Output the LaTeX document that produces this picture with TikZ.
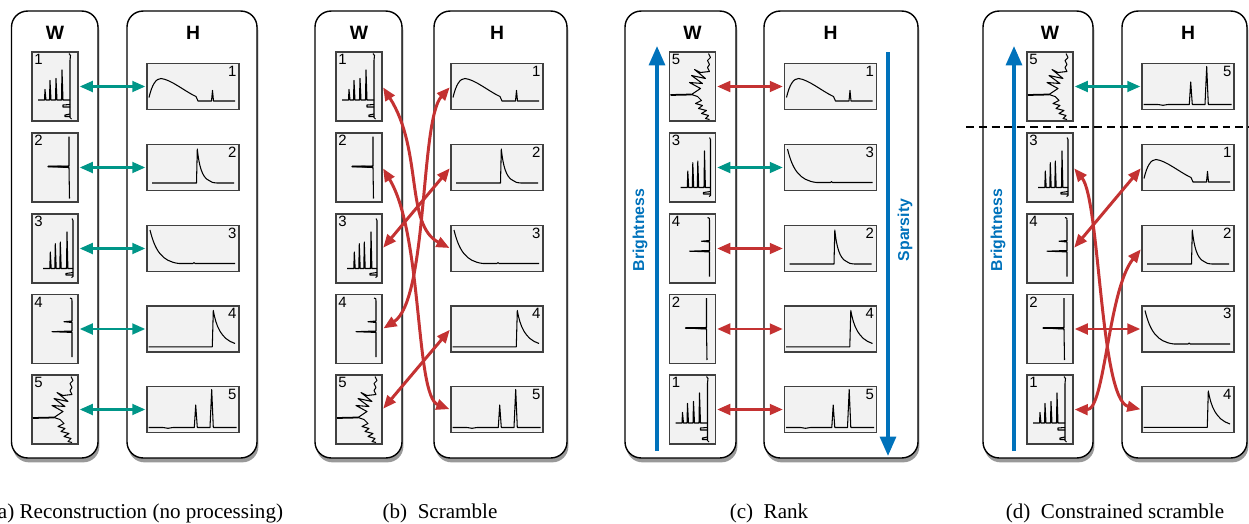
\documentclass[tikz,border=0pt]{standalone}
\usepackage{fontspec}
\setmainfont{Liberation Serif}
\setsansfont{Liberation Sans}
\usetikzlibrary{positioning, calc, arrows.meta, shadows}

\definecolor{tealc}{RGB}{0,150,136}
\definecolor{redc}{RGB}{196,50,50}
\definecolor{bluec}{RGB}{0,114,187}

\tikzset{
  panel/.style={draw=black, line width=0.8pt, fill=white, rounded corners=0.32cm, minimum height=8.94cm,
    drop shadow={shadow xshift=0.8pt, shadow yshift=-2.5pt, opacity=0.4, fill=black}},
  wbox/.style={draw=black!75, fill=black!5, line width=0.6pt, minimum width=0.92cm, minimum height=1.38cm, inner sep=0pt},
  hbox/.style={draw=black!75, fill=black!5, line width=0.6pt, minimum width=1.84cm, minimum height=0.92cm, inner sep=0pt},
  num/.style={font=\sffamily\fontsize{8.5}{9}\selectfont, inner sep=1.2pt},
  heading/.style={font=\sffamily\bfseries\fontsize{11}{12}\selectfont},
  axislabel/.style={font=\sffamily\bfseries\fontsize{9}{11}\selectfont, text=bluec, rotate=90},
  subcap/.style={font=\fontsize{12}{14}\selectfont, anchor=base},
  sig/.style={line width=0.6pt, line join=round, black},
  link/.style={<->, line width=1.7pt, >={Triangle[length=7.5pt, width=6pt]}, shorten <=0.6pt, shorten >=0.6pt},
  kept/.style={link, color=tealc},
  moved/.style={link, color=redc},
  ordr/.style={-{Triangle[length=11pt, width=9pt]}, line width=2pt, color=bluec},
  % W signals
  wsig1/.pic={
    \draw[sig] (14,33) -- (15.5,31) -- (15,26) -- (15,-31) -- (16.5,-32.5);
    \draw[sig] (-17,-13.5) -- (-10.5,-13.5) -- (-10,-3) -- (-9,-13.5) -- (-5.5,-13.5) -- (-5,6) -- (-4,-13.5)
      -- (0.5,-13.5) -- (1,8) -- (2,-13.5) -- (6.5,-13.5) -- (7,16.5) -- (8,-13.5) -- (15,-13.5);
    \draw[sig] (15,-18) -- (8,-18.5) -- (8,-20.5) -- (15,-20.5);
    \draw[sig] (15,-27.5) -- (10,-28.5) -- (10,-30) -- (15,-30);
  },
  wsig2/.pic={
    \draw[sig] (14,31) -- (14,1.5) -- (-7,1) -- (14,0);
    \draw[sig, line width=1pt] (-7,1) -- (14,0.8);
    \draw[sig] (14,0) -- (14.5,-31);
  },
  wsig3/.pic={
    \draw[sig] (17,30) -- (18,28) -- (18,-28) -- (16.5,-29);
    \draw[sig] (-12,-20) -- (-5.2,-20) -- (-4.7,-3.5) -- (-3.8,-20) -- (-0.2,-20) -- (0.3,4.8) -- (1.2,-20)
      -- (4.8,-20) -- (5.3,6.5) -- (6.2,-20) -- (11.5,-20) -- (12,16.5) -- (12.9,-20) -- (18,-20);
    \draw[sig] (18,-24) -- (11,-25) -- (11,-26.5) -- (18,-26.5);
  },
  wsig4/.pic={
    \draw[sig] (15,31) .. controls (17,31) and (17,30) .. (17,28) -- (17,8) -- (9,7.3) -- (17,6.5)
      -- (17,-2) -- (-3,-2.7) -- (17,-3.4) -- (17,-28);
  },
  wsig5/.pic={
    \draw[sig] (16,33) -- (18,29) -- (15,26) -- (17,22) -- (15,19) -- (17,15) -- (8,14) -- (2,17) -- (13,8)
      -- (-1,11) -- (10,3) -- (-3,4) -- (8,-2) -- (-1,-8) -- (5,-10) -- (9,-14) -- (3,-17) -- (10,-19)
      -- (6,-22) -- (14,-24) -- (9,-27) -- (16,-29) -- (13,-32) -- (17,-33);
    \draw[line width=1pt] (-22,-8.5) -- (-1,-8);
  },
  % H signals
  hsig1/.pic={
    \draw[sig] (-44,-11) .. controls (-41,2) and (-37,8) .. (-32,8) .. controls (-22,7) and (-8,-5) .. (3,-10)
      -- (5,-14.5) -- (18.5,-14.5) -- (19.5,-4) -- (20.5,-14.5) -- (42,-14.5);
  },
  hsig2/.pic={
    \draw[sig] (-41,-15.5) -- (3.5,-15.5) -- (4.3,18.5) .. controls (6,2) and (9,-10) .. (16,-13)
      .. controls (19,-15) .. (24,-15.5) -- (41,-15.5);
  },
  hsig3/.pic={
    \draw[sig] (-43,18.5) .. controls (-38,-2) and (-31,-13) .. (-14,-15) -- (0,-15) -- (1,-14) -- (2,-15) -- (42,-15);
  },
  hsig4/.pic={
    \draw[sig] (-44.5,-17.8) -- (19.3,-17.8) -- (20.3,18.5) .. controls (23,3) and (28,-10) .. (42,-14.5);
  },
  hsig5/.pic={
    \draw[sig] (-44.5,-18) -- (-30,-18) -- (-25,-18.8) -- (-20,-18) -- (1.3,-18) -- (2.7,4.5) -- (4.3,-18)
      -- (17,-18) -- (18.7,20) -- (20.3,-18) -- (43.5,-18);
  },
  % thumbnails
  wthumb/.pic={
    \node[wbox] (-b) at (0,0) {};
    \node[num, anchor=north west] (-n) at (-23,34.5) {#1};
    \pic {wsig#1};
  },
  hthumb/.pic={
    \node[hbox] (-b) at (0,0) {};
    \node[num, anchor=north east] (-n) at (46,23) {#1};
    \pic {hsig#1};
  },
}

\begin{document}
\begin{tikzpicture}[x=0.02cm, y=0.02cm]
  \useasboundingbox (0,0) rectangle (1249,-524);

  % (a) reconstruction
  \node[panel, minimum width=1.73cm] (a-W) at (54.75,-234.5) {};
  \node[panel, minimum width=2.60cm] (a-H) at (192,-234.5) {};
  \node[heading] (a-wl) at (55,-33) {W};
  \node[heading] (a-hl) at (193,-33) {H};
  \foreach \k/\y in {1/86.5, 2/167.5, 3/248.5, 4/329, 5/409.5} {
    \pic (aw\k) at (55,-\y) {wthumb=\k};
    \pic (ah\k) at (193,-\y) {hthumb=\k};
    \draw[kept] (aw\k-b.east) -- (ah\k-b.west);
  }
  \node[subcap] (a-cap) at (137,-518) {(a)\ Reconstruction (no processing)};

  % (b) scramble
  \node[panel, minimum width=1.74cm] (b-W) at (358.5,-234.5) {};
  \node[panel, minimum width=2.66cm] (b-H) at (500.5,-234.5) {};
  \node[heading] (b-wl) at (359,-33) {W};
  \node[heading] (b-hl) at (497,-33) {H};
  \foreach \k/\y in {1/86.5, 2/167.5, 3/248.5, 4/329, 5/409.5} {
    \pic (bw\k) at (359,-\y) {wthumb=\k};
    \pic (bh\k) at (497,-\y) {hthumb=\k};
  }
  \draw[moved] (bw1-b.east) .. controls (423,-150) and (405,-225) .. (bh3-b.west);
  \draw[moved] (bw2-b.east) .. controls (423,-235) and (415,-396) .. (bh5-b.west);
  \draw[moved] (bw3-b.east) -- (bh2-b.west);
  \draw[moved] (bw4-b.east) .. controls (428,-300) and (420,-120) .. (bh1-b.west);
  \draw[moved] (bw5-b.east) -- (bh4-b.west);
  \node[subcap] (b-cap) at (440,-518) {(b)\ \ Scramble};

  % (c) rank
  \node[panel, minimum width=2.22cm] (c-W) at (680.5,-234.5) {};
  \node[panel, minimum width=3.08cm] (c-H) at (841,-234.5) {};
  \node[heading] (c-wl) at (692.5,-33) {W};
  \node[heading] (c-hl) at (830.5,-33) {H};
  \foreach \r/\wk/\hk/\st/\y in {1/5/1/moved/86.5, 2/3/3/kept/167.5, 3/4/2/moved/248.5, 4/2/4/moved/329, 5/1/5/moved/409.5} {
    \pic (cw\r) at (692.5,-\y) {wthumb=\wk};
    \pic (ch\r) at (830.5,-\y) {hthumb=\hk};
    \draw[\st] (cw\r-b.east) -- (ch\r-b.west);
  }
  \coordinate (c-b0) at (657,-451);
  \coordinate (c-b1) at (657,-46);
  \draw[ordr] (c-b0) -- (c-b1);
  \node[axislabel] (c-bt) at (640,-230) {Brightness};
  \coordinate (c-s0) at (888,-52);
  \coordinate (c-s1) at (888,-456);
  \draw[ordr] (c-s0) -- (c-s1);
  \node[axislabel] (c-st) at (905,-230) {Sparsity};
  \node[subcap] (c-cap) at (769,-518) {(c)\ \ Rank};

  % (d) constrained scramble
  \node[panel, minimum width=2.20cm] (d-W) at (1038,-234.5) {};
  \node[panel, minimum width=2.50cm] (d-H) at (1184.5,-234.5) {};
  \node[heading] (d-wl) at (1050,-33) {W};
  \node[heading] (d-hl) at (1188,-33) {H};
  \foreach \r/\wk/\hk/\y in {1/5/5/86.5, 2/3/1/167.5, 3/4/2/248.5, 4/2/3/329, 5/1/4/409.5} {
    \pic (dw\r) at (1050,-\y) {wthumb=\wk};
    \pic (dh\r) at (1188,-\y) {hthumb=\hk};
  }
  \draw[kept] (dw1-b.east) -- (dh1-b.west);
  \draw[moved] (dw2-b.east) .. controls (1100,-200) and (1100,-400) .. (dh5-b.west);
  \draw[moved] (dw3-b.east) -- (dh2-b.west);
  \draw[moved] (dw4-b.east) -- (dh4-b.west);
  \draw[moved] (dw5-b.east) .. controls (1105,-410) and (1108,-290) .. (dh3-b.west);
  \coordinate (d-b0) at (1014,-451);
  \coordinate (d-b1) at (1014,-46);
  \draw[ordr] (d-b0) -- (d-b1);
  \node[axislabel] (d-bt) at (998,-230) {Brightness};
  \coordinate (d-l) at (966,-127);
  \coordinate (d-r) at (1249,-127);
  \draw[dash pattern=on 4.5pt off 2.8pt, line width=0.7pt] (d-l) -- (d-r);
  \node[subcap] (d-cap) at (1115,-518) {(d)\ \ Constrained scramble};
\end{tikzpicture}
\end{document}
